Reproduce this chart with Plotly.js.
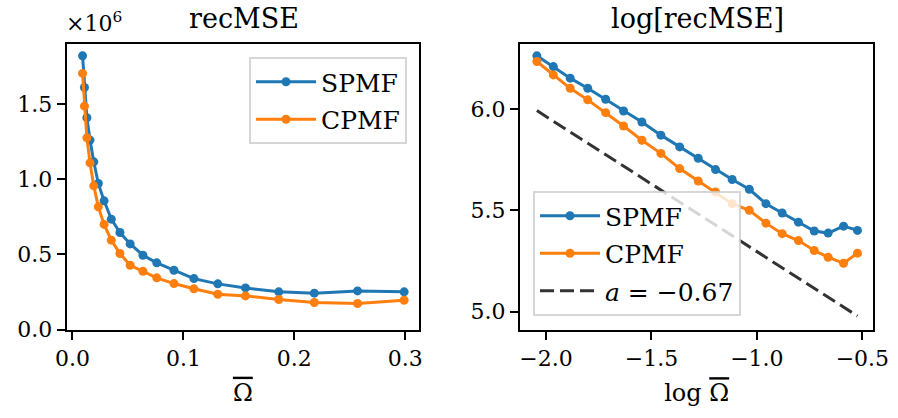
<!DOCTYPE html>
<html>
<head>
<meta charset="utf-8">
<script src="https://cdn.plot.ly/plotly-3.0.1.min.js"></script>
<style>html,body{margin:0;padding:0;background:#fff;}#chart{width:898px;height:418px;}</style>
</head>
<body>
<div id="chart"></div>
<script>
// ---- data ----
const omega = [0.0091, 0.0108, 0.0130, 0.0158, 0.0192, 0.0233, 0.0285, 0.0350, 0.0428, 0.0520,
               0.0635, 0.0760, 0.0915, 0.1095, 0.131, 0.156, 0.186, 0.218, 0.257, 0.299];
const recSPMF = [1.823e6, 1.612e6, 1.411e6, 1.262e6, 1.117e6, 0.973e6, 0.857e6, 0.735e6, 0.646e6, 0.570e6,
                 0.495e6, 0.444e6, 0.395e6, 0.339e6, 0.304e6, 0.277e6, 0.251e6, 0.242e6, 0.257e6, 0.251e6];
const recCPMF = [1.706e6, 1.488e6, 1.277e6, 1.110e6, 0.957e6, 0.817e6, 0.700e6, 0.595e6, 0.506e6, 0.428e6,
                 0.388e6, 0.344e6, 0.306e6, 0.271e6, 0.235e6, 0.224e6, 0.200e6, 0.180e6, 0.173e6, 0.195e6];
const logOmega = [-2.043, -1.965, -1.885, -1.802, -1.717, -1.632, -1.545, -1.455, -1.366, -1.278,
                  -1.196, -1.117, -1.036, -0.957, -0.880, -0.803, -0.728, -0.662, -0.589, -0.523];
const logSPMF = [6.262, 6.209, 6.152, 6.102, 6.048, 5.990, 5.936, 5.871, 5.813, 5.757,
                 5.701, 5.652, 5.604, 5.533, 5.487, 5.442, 5.398, 5.388, 5.422, 5.401];
const logCPMF = [6.234, 6.168, 6.102, 6.045, 5.982, 5.916, 5.846, 5.781, 5.706, 5.645,
                 5.591, 5.533, 5.500, 5.437, 5.385, 5.351, 5.302, 5.269, 5.239, 5.289];
const fitX = [-2.043, -0.523];
const fitY = [5.992, 4.979];
const leftYTickVals = [0, 0.5e6, 1.0e6, 1.5e6];
const leftYTickText = ['0.0', '0.5', '1.0', '1.5'];
const seriesNames = ['SPMF', 'CPMF'];
const fitName = '<i>a</i> = \u22120.67';

// ---- styles ----
const BLUE = '#1f77b4', ORANGE = '#ff7f0e';
const FONT = '"DejaVu Serif", "Liberation Serif", serif';
const W = 898, H = 418;
const px = v => v / W, py = v => 1 - v / H;

function series(x, y, name, color, xa, ya, legend) {
  return {
    x: x, y: y, name: name, type: 'scatter', mode: 'lines+markers',
    xaxis: xa, yaxis: ya, legend: legend, legendgroup: legend + name,
    line: {color: color, width: 3},
    marker: {color: color, size: 9}
  };
}

const traces = [
  series(omega, recSPMF, seriesNames[0], BLUE, 'x', 'y', 'legend'),
  series(omega, recCPMF, seriesNames[1], ORANGE, 'x', 'y', 'legend'),
  series(logOmega, logSPMF, seriesNames[0], BLUE, 'x2', 'y2', 'legend2'),
  series(logOmega, logCPMF, seriesNames[1], ORANGE, 'x2', 'y2', 'legend2'),
  {x: fitX, y: fitY, name: fitName, type: 'scatter', mode: 'lines', xaxis: 'x2', yaxis: 'y2',
   legend: 'legend2', legendgroup: 'fit',
   line: {color: 'rgba(0,0,0,0.8)', width: 3, dash: '14px,6px'}}
];

const axisCommon = {
  showline: true, mirror: true, linecolor: '#000', linewidth: 2,
  ticks: 'outside', ticklen: 8, tickwidth: 2, tickcolor: '#000',
  showgrid: false, zeroline: false,
  tickfont: {family: FONT, size: 22, color: '#000'}
};

const legendCommon = {
  font: {family: FONT, size: 25, color: '#000'},
  bgcolor: 'rgba(255,255,255,0.8)', bordercolor: 'rgba(204,204,204,0.8)', borderwidth: 2,
  tracegroupgap: 2, itemwidth: 60
};

const layout = {
  width: W, height: H,
  margin: {l: 0, r: 0, t: 0, b: 0},
  paper_bgcolor: '#fff', plot_bgcolor: '#fff',
  showlegend: true,
  xaxis: Object.assign({}, axisCommon, {
    domain: [px(66.7), px(419)], range: [-0.0052, 0.3124], dtick: 0.1, tick0: 0, tickformat: '.1f',
    anchor: 'y',
    title: {text: "<span style='text-decoration:overline'>\u03A9</span>", font: {family: FONT, size: 24, color: '#000'}, standoff: 14}
  }),
  yaxis: Object.assign({}, axisCommon, {
    domain: [py(329.5), py(44.3)], range: [0, 1.9e6], tickvals: leftYTickVals, ticktext: leftYTickText,
    anchor: 'x'
  }),
  xaxis2: Object.assign({}, axisCommon, {
    domain: [px(520), px(873.3)], range: [-2.123, -0.448], dtick: 0.5, tick0: 0, tickformat: '.1f',
    anchor: 'y2',
    title: {text: "log <span style='text-decoration:overline'>\u03A9</span>", font: {family: FONT, size: 24, color: '#000'}, standoff: 14}
  }),
  yaxis2: Object.assign({}, axisCommon, {
    domain: [py(330), py(44.3)], range: [4.91, 6.319], dtick: 0.5, tick0: 0, tickformat: '.1f',
    anchor: 'x2'
  }),
  legend: Object.assign({}, legendCommon, {x: px(407), xanchor: 'right', y: py(57), yanchor: 'top'}),
  legend2: Object.assign({}, legendCommon, {x: px(533), xanchor: 'left', y: py(316), yanchor: 'bottom'}),
  annotations: [
    {text: 'recMSE', xref: 'paper', yref: 'paper', x: px(244), y: py(36), xanchor: 'center', yanchor: 'bottom',
     showarrow: false, font: {family: FONT, size: 27, color: '#000'}},
    {text: 'log[recMSE]', xref: 'paper', yref: 'paper', x: px(697), y: py(36), xanchor: 'center', yanchor: 'bottom',
     showarrow: false, font: {family: FONT, size: 27, color: '#000'}},
    {text: '\u00D710<sup>6</sup>', xref: 'paper', yref: 'paper', x: px(64), y: py(38), xanchor: 'left', yanchor: 'bottom',
     showarrow: false, font: {family: FONT, size: 22, color: '#000'}}
  ]
};

Plotly.newPlot('chart', traces, layout, {staticPlot: true, displayModeBar: false});
</script>
</body>
</html>
